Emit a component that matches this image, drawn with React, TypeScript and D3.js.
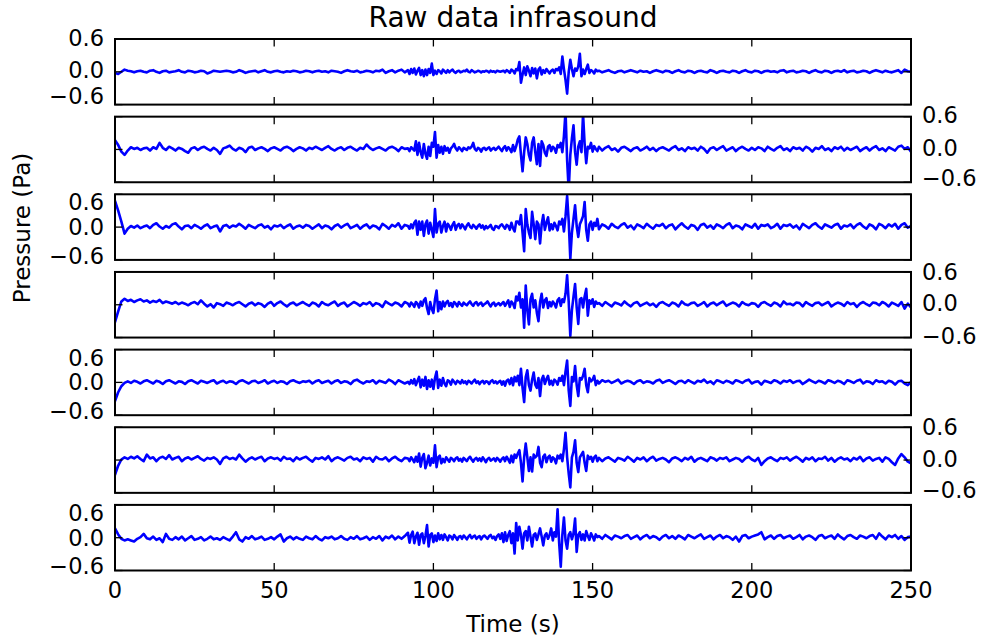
import React from 'react';
import * as d3 from 'd3';

const TITLE = 'Raw data infrasound';
const X_LABEL = 'Time (s)';
const Y_LABEL = 'Pressure (Pa)';
const X_TICKS = [0, 50, 100, 150, 200, 250];
const Y_TICKS = [0.6, 0, -0.6];
const Y_TICK_LABELS = ['0.6', '0.0', '\u22120.6'];

// sampling grid of each stored segment: [start time (s), step (s)]
const SEG_PRE: [number, number] = [0, 1];
const SEG_MID: [number, number] = [92, 0.5];
const SEG_POST: [number, number] = [152, 1];

// ---------- channel 1 ----------
const ch1Pre = [
  -.02,-.04,0,.04,.02,.01,-.01,.01,.02,0,
  -.01,.02,.03,0,-.02,.01,.02,-.01,0,.01,
  .03,0,-.01,.02,.01,-.01,0,.02,.01,-.03,
  -.01,.02,.01,0,.01,.02,.01,-.01,0,.03,
  .01,-.02,0,.01,.02,-.01,.01,.03,0,-.01,
  .01,.02,0,-.01,.01,0,.02,.01,-.01,0,
  .02,.01,-.01,.01,.02,0,.01,-.01,.02,.01,
  0,-.02,.01,.03,.01,0,.02,-.01,0,.02,
  .01,-.01,.02,.01,.04,-.02,.01,.03,-.01,.02,
  .04,-.01];
const ch1Mid = [
  .03,-.04,.05,-.02,.06,-.05,.02,.07,-.06,.03,
  -.08,.04,-.06,.05,-.02,.15,-.06,.02,-.04,.03,
  .01,-.03,.04,.01,-.02,.03,-.01,.02,.04,0,
  -.02,.01,.02,-.01,0,.02,.01,.04,0,-.01,
  .03,.01,-.01,0,.02,.01,-.01,.01,0,.02,
  .01,-.01,.02,0,.01,-.01,.02,.01,0,.01,
  .02,-.01,.03,.01,-.02,.04,.02,-.03,.05,.03,
  .18,-.2,-.05,.08,-.06,.1,.02,-.08,.07,-.03,
  .06,-.12,.04,.08,-.05,.03,-.02,.05,.01,-.03,
  .02,.04,-.02,.05,.03,.08,-.04,.28,.05,-.15,
  -.4,0,.22,.05,-.08,.06,.02,.1,.33,-.08,
  .04,-.04,.05,.13,-.02,.03,.01,-.03,.04,.01];
const ch1Post = [
  .02,-.01,.01,.03,0,-.02,.01,.02,-.01,.01,
  .03,.01,-.01,.02,0,.01,-.02,.01,.03,.01,
  -.01,.02,.01,-.02,.01,.03,0,-.01,.02,.01,
  -.02,.01,.02,0,-.01,.03,.01,-.02,.01,.02,
  0,-.01,.02,.01,-.02,.01,.03,0,-.01,.02,
  .01,-.02,.01,.02,0,.01,-.01,.02,.03,-.01,
  .01,.02,-.01,0,.02,.01,-.02,.01,.03,0,
  -.01,.02,.01,-.02,.01,.02,0,.03,-.01,.01,
  .02,-.01,0,.02,.01,-.02,.01,.03,.01,-.01,
  .02,0,-.01,.01,.03,-.02,.04,.01,0];

// ---------- channel 2 ----------
const ch2Pre = [
  .17,.08,-.04,-.1,-.02,.04,.01,.03,-.01,.02,
  .03,-.02,.04,.01,.12,.03,-.01,.05,.02,-.02,
  .03,.01,-.03,-.06,.02,.04,-.01,.03,.05,.01,
  -.02,.03,-.01,-.08,.02,.04,.07,.01,-.02,.03,
  .01,-.05,.03,.05,-.01,.02,.04,.01,-.03,.02,
  .04,.01,-.02,.03,.05,.02,-.03,.01,.04,.02,
  -.02,.03,.01,.05,.02,-.01,.03,.06,.01,-.02,
  .02,.04,-.01,.03,.05,.01,-.02,.03,.01,.09,
  .03,-.01,.02,.04,.01,-.02,.03,.05,.02,-.03,
  .04,.01];
const ch2Mid = [
  .02,-.03,.04,.01,-.02,.15,-.1,.12,-.05,-.15,
  .1,-.08,-.17,.05,-.12,.12,.05,.32,-.15,.08,
  -.06,.05,-.08,.06,-.02,.03,-.06,.02,.05,.1,
  .02,-.02,.04,.01,-.03,.03,.01,-.01,.04,.02,
  .05,.12,.01,-.02,.03,.01,-.04,.02,.03,-.01,
  .02,.04,-.02,.01,.03,-.01,.02,.05,.01,-.03,
  .03,.06,-.02,.04,.01,-.05,.08,-.03,.06,.18,
  .24,-.1,-.4,-.05,.22,.1,-.1,-.2,.12,.22,
  -.05,-.27,.1,-.3,.15,.08,-.06,-.12,.05,.08,
  -.03,.05,.02,-.06,.08,.04,.12,-.05,.25,.7,
  -.2,-.75,-.1,.2,.44,-.05,-.28,.05,.15,-.05,
  .65,.1,-.25,.05,.02,.12,-.04,.06,.01,-.03];
const ch2Post = [
  .05,-.02,.03,.06,-.01,.02,-.04,.03,.05,.01,
  -.03,.02,.04,-.02,.01,.05,-.01,.03,-.03,.02,
  .04,.01,-.02,.03,.06,-.01,.02,-.03,.04,.01,
  .03,-.02,.05,.01,-.06,.02,.04,-.01,.03,.06,
  -.02,.01,.04,-.03,.02,.05,.01,-.02,.03,-.01,
  .04,.02,-.03,.05,.01,-.02,.03,.06,-.01,.02,
  -.03,.04,.01,.03,-.02,.05,.02,-.04,.03,.01,
  .06,-.01,.02,-.03,.04,.01,.05,-.02,.03,-.01,
  .02,.05,-.03,.01,.04,-.02,.03,.06,-.01,.02,
  -.03,.04,.01,-.02,.05,.07,.01,.04,-.04];

// ---------- channel 3 ----------
const ch3Pre = [
  .48,.3,.1,-.12,-.03,.02,-.01,.03,-.02,.01,
  .03,-.02,.04,.07,.01,-.03,.02,-.01,.05,.07,
  .01,-.04,.02,.03,-.02,.04,.01,-.03,.02,.05,
  -.02,.01,.03,-.08,.02,.04,-.01,.03,.01,.06,
  .02,-.03,.04,.01,-.02,.03,.05,-.01,.02,-.04,
  .03,.01,.04,-.02,.02,.05,-.03,.01,.03,-.01,
  .04,.02,-.03,.01,.05,-.02,.03,.01,-.04,.02,
  .05,-.01,.03,.06,-.02,.01,.04,-.03,.02,.05,
  -.02,.03,.01,-.04,.06,.02,-.03,.04,.01,.07,
  -.03,.04];
const ch3Mid = [
  .02,-.03,.05,-.02,.08,.12,-.14,.1,-.05,.1,
  -.16,.05,.12,-.12,.08,-.05,-.18,.33,-.1,.06,
  .1,-.1,.02,.1,-.08,.06,.02,-.05,.04,.09,
  -.05,.03,.06,-.02,.05,.01,-.04,.03,.07,.01,
  -.02,.04,.01,-.03,.02,.05,-.01,.03,-.04,.02,
  -.02,.01,.04,-.03,-.05,.02,.01,-.02,.03,.05,
  .01,-.03,.04,.02,-.05,.08,-.02,-.08,.1,.1,
  .05,.22,-.1,-.44,.33,.05,-.1,-.2,.28,.05,
  -.22,.1,.05,-.3,.05,.22,-.05,.08,.18,-.06,
  .05,-.04,.08,.02,-.06,.1,.05,.15,-.08,.2,
  .57,.1,-.58,-.1,.15,.4,.02,-.18,.05,.12,
  .2,.46,-.05,-.25,.05,.1,-.05,.08,.02,.15];
const ch3Post = [
  -.04,.05,.02,-.03,.06,.01,-.02,.04,.07,-.01,
  .03,-.04,.05,.02,-.02,.06,.01,-.03,.04,.02,
  .06,-.02,.03,.05,-.04,.02,.07,.01,-.03,.04,
  .02,-.05,.04,.06,-.01,.03,-.03,.05,.02,-.02,
  .04,.07,-.02,.03,.01,-.04,.05,.02,-.01,.06,
  -.03,.04,.02,.05,-.02,.01,.06,-.03,.04,.02,
  .05,-.01,.03,-.04,.06,.02,-.02,.04,.07,.01,
  -.03,.05,.02,-.01,.04,.06,-.03,.03,.01,.05,
  -.02,.04,.07,.01,-.03,.05,.02,-.04,.06,.03,
  -.02,.05,.01,.06,-.03,.04,.07,-.01,.02];

// ---------- channel 4 ----------
const ch4Pre = [
  -.32,-.12,.06,.11,.07,.09,.05,.08,.1,.06,
  .08,.04,.07,.05,.09,.03,.06,.04,.02,.05,
  .01,.04,.02,-.01,.03,.05,.01,.08,.02,-.03,
  .01,-.05,.03,.01,-.02,.04,.02,-.01,.03,.05,
  .01,-.03,.02,.04,-.01,.03,.01,-.04,.02,.05,
  -.02,.03,.06,.01,-.03,.02,.04,-.01,.02,.05,
  .01,-.02,.04,.02,-.03,.05,.01,-.01,.03,.06,
  -.02,.02,.04,-.03,.01,.05,.02,-.02,.03,.01,
  .05,-.02,.03,.01,-.04,.06,.02,-.01,.04,.02,
  -.03,.05];
const ch4Mid = [
  .02,-.03,.04,.01,-.04,.05,.02,-.05,.06,-.02,
  .08,.12,-.06,-.17,.05,-.08,-.15,.1,.26,-.12,
  .05,-.08,.06,-.03,.04,.07,-.02,.03,-.04,.05,
  .02,-.03,.05,.01,-.02,.04,.01,-.01,.03,.06,
  .01,-.02,.03,.05,-.01,.02,.04,-.02,.01,.03,
  .06,.01,-.03,.02,.04,-.02,.01,.03,-.01,.02,
  .05,-.02,.03,.08,-.04,.06,.02,-.06,.15,.08,
  .22,-.05,.1,-.42,.35,-.1,-.36,.1,.2,-.05,
  .08,-.15,-.3,.05,.2,-.05,.08,.12,-.06,.05,
  -.03,.06,.02,-.05,.08,.12,-.02,.1,.05,.2,
  .54,.05,-.57,-.1,.15,.38,-.05,-.35,.1,.12,
  -.05,.15,.29,-.2,.08,.02,.1,-.04,.06,.02];
const ch4Post = [
  .03,-.02,.05,.01,-.03,.04,.02,-.01,.06,.01,
  -.03,.03,.05,-.02,.01,.04,-.01,.02,-.04,.03,
  .05,.01,-.02,.04,.02,-.03,.06,.01,-.01,.03,
  .04,-.02,.01,.05,-.03,.02,.04,-.01,.03,.06,
  -.02,.01,.04,.02,-.03,.05,.01,-.01,.03,.02,
  -.04,.03,.05,.01,-.02,.04,.02,-.03,.06,.01,
  .02,-.01,.04,.03,-.03,.05,.01,-.02,.03,.04,
  -.01,.02,.05,-.03,.01,.04,.02,-.02,.05,.01,
  .03,-.04,.02,.05,.01,-.02,.04,.03,-.01,.05,
  .02,-.03,.04,.01,-.02,.05,-.07,.02,-.05];

// ---------- channel 5 ----------
const ch5Pre = [
  -.34,-.18,-.07,-.01,.02,-.01,.03,.01,-.02,.02,
  .04,.01,-.02,.03,.01,-.03,.02,.04,.01,-.02,
  .02,.01,-.03,.02,.04,.01,-.02,.03,.01,-.01,
  .02,.04,-.02,.01,.03,-.01,.02,.01,-.03,.02,
  .04,.01,-.02,.02,.03,-.01,.01,.04,-.02,.01,
  .03,-.01,.02,.01,-.03,.02,.04,.01,-.01,.02,
  .01,.03,-.02,.02,.04,-.01,.01,.03,-.02,.02,
  .04,-.01,.02,.01,-.03,.03,.05,.01,-.02,.02,
  .01,.04,-.02,.03,.01,-.01,.05,.02,-.03,.04,
  .01,-.02];
const ch5Mid = [
  .01,-.03,.04,-.02,.06,-.05,.03,.1,-.09,.05,
  -.06,.1,-.12,.04,-.08,.05,-.12,.08,.2,-.1,
  .05,-.06,.08,-.02,-.07,.04,.02,-.04,.05,.01,
  -.03,.03,.01,-.02,.04,-.01,.02,-.03,.03,.01,
  -.02,.02,.05,-.01,.02,-.03,.01,.03,-.02,.02,
  .01,-.03,.02,.04,-.01,.02,-.02,.01,.03,-.04,
  .02,-.06,.03,.05,-.03,.08,-.05,.1,.02,.12,
  -.05,.25,-.1,-.36,.1,.22,-.05,-.15,.05,.18,
  -.04,-.1,.08,-.25,.05,.12,-.03,.06,.12,-.04,
  .03,-.05,.05,.02,-.04,.08,.03,.12,-.05,.2,
  .4,-.15,-.43,.1,.02,.3,-.05,-.25,.08,.05,
  .12,.25,-.05,-.18,.08,.02,.05,.12,-.05,.03];
const ch5Post = [
  -.02,.04,.01,.03,-.01,.02,.05,-.02,.01,.03,
  .01,-.03,.02,.04,-.01,.02,.01,-.02,.03,.05,
  -.01,.02,.04,.01,-.03,.02,.03,-.01,.04,.01,
  -.02,.03,.01,.05,-.01,.02,-.03,.04,.02,-.01,
  .03,.01,-.02,.04,.02,-.01,.03,.05,-.02,.01,
  .02,-.04,.03,.01,-.01,.04,.02,-.02,.03,.01,
  .04,-.01,.02,.03,-.03,.01,.05,.02,-.01,.03,
  .01,-.02,.04,.02,-.01,.03,.01,-.03,.04,.02,
  -.01,.03,.05,-.02,.02,.01,-.03,.04,.01,.02,
  -.02,.03,.01,-.04,.02,.03,-.02,-.05,.01];

// ---------- channel 6 ----------
const ch6Pre = [
  -.27,-.1,.01,.05,.02,.06,.03,.07,.02,-.02,
  .1,.03,.05,-.02,.04,.06,.02,.09,.01,.04,
  .06,-.02,.03,.05,.01,.04,.07,.02,-.01,.04,
  .02,.05,.01,-.07,.03,.06,.02,.04,.01,.1,
  .03,-.03,.02,.05,.01,.04,.06,-.02,.03,.05,
  .02,.04,-.01,.06,.02,.03,-.02,.05,.01,.04,
  .06,.01,-.03,.04,.02,.05,.01,.07,-.02,.03,
  .05,.02,-.01,.04,.06,.01,.03,-.02,.05,.02,
  .04,-.03,.06,.02,.01,.05,-.02,.03,.06,.01,
  -.02,.04];
const ch6Mid = [
  .03,-.02,.05,.01,-.04,.06,-.03,.12,-.12,.04,
  .11,-.15,-.05,.08,-.1,.03,-.05,.27,-.13,.05,
  .08,-.06,.02,-.04,.05,.01,-.03,.04,.02,-.02,
  .03,.05,-.01,.02,-.03,.04,.01,-.02,.03,.06,
  .01,-.03,.02,.04,-.01,.03,-.02,.05,.01,-.04,
  .02,.04,-.01,.01,.03,-.02,.04,.01,-.03,.02,
  .05,-.02,.06,.01,-.05,.08,-.04,.1,.04,.12,
  .18,-.05,-.39,.05,.3,.05,-.2,.05,-.21,.1,
  .05,.08,.24,-.05,-.13,.06,.1,-.04,.05,.08,
  -.03,.05,.02,-.06,.08,.03,.1,-.02,.2,.5,
  .05,-.25,-.5,.05,.15,.36,-.05,-.22,.05,.1,
  .15,-.05,-.2,.08,.02,.06,-.03,.05,.08,-.02];
const ch6Post = [
  .04,-.02,.03,.05,.01,-.03,.04,.02,-.01,.06,
  .02,-.03,.04,.01,.05,-.02,.03,.06,-.01,.02,
  .04,.01,-.04,.03,.05,.02,-.02,.04,.01,.06,
  -.03,.02,.04,.01,-.02,.05,.03,-.01,.04,.02,
  .05,-.02,.01,.04,.02,-.03,.03,.06,.01,-.02,
  .04,-.09,-.02,.03,.05,.01,-.02,.04,.02,.05,
  -.01,.03,.06,.02,-.03,.04,.01,.05,-.02,.03,
  .02,.06,-.01,.04,-.03,.02,.05,.01,.03,-.02,
  .04,.01,.06,-.02,.03,.05,-.01,.02,.04,-.03,
  .05,.02,-.04,-.09,.03,.11,.05,-.03,-.06];

// ---------- channel 7 ----------
const ch7Pre = [
  .17,.06,-.02,-.05,-.03,-.05,-.07,-.02,.01,.07,
  -.01,-.03,.02,-.04,-.01,-.08,.07,-.02,-.04,.01,
  -.03,.02,-.05,-.01,.03,-.04,-.02,.01,-.05,-.02,
  .02,-.03,-.01,-.04,.01,-.02,-.05,.02,.1,-.03,
  -.07,.01,-.02,.03,-.03,-.01,.02,-.04,-.02,.01,
  -.03,.02,.06,-.07,-.01,.02,-.03,.01,-.02,-.04,
  .02,-.01,-.03,.03,-.02,-.05,.01,-.01,.02,-.03,
  -.01,.03,-.02,-.04,.01,-.02,.03,-.03,-.01,.02,
  -.04,.01,-.02,.03,-.05,.02,-.01,.04,-.03,.02,
  -.02,.03];
const ch7Mid = [
  .09,-.09,.05,.11,-.1,.02,.09,-.13,.05,.08,
  -.1,.03,.23,-.16,.05,.08,-.08,.04,-.06,.08,
  -.03,.05,-.04,.06,.01,-.05,.04,.02,-.03,.05,
  .01,-.04,.02,.03,-.02,.04,.01,-.03,.02,.05,
  -.01,.02,.04,-.02,.01,.03,-.03,.02,.04,.01,
  -.02,.03,.05,-.01,.02,-.04,.03,.06,-.02,.08,
  -.08,.1,-.06,.05,.12,-.1,.08,-.29,.27,-.05,
  .2,.05,-.2,.08,.12,-.05,.2,.02,-.16,.05,
  .08,-.04,.06,.17,.02,-.14,.04,.08,-.02,.05,
  .17,-.05,.1,.02,.52,-.1,-.53,.05,.37,-.05,
  -.2,.05,.1,-.03,.08,.35,-.26,.05,.1,-.04,
  .06,-.05,.12,.03,-.04,.08,.02,-.05,.06,.01];
const ch7Post = [
  .03,-.02,.05,.01,-.03,.04,.02,-.01,.03,.05,
  -.02,.01,.04,-.03,.02,.05,-.01,.03,.01,-.04,
  .02,.05,-.01,.03,-.02,.04,.01,-.03,.05,.02,
  -.01,.03,.06,-.02,.01,.04,-.03,.02,.05,-.01,
  .03,.01,-.04,.02,-.07,.03,.05,-.01,.02,.04,
  .06,.1,-.03,.01,.04,-.02,.03,.05,-.01,.02,
  .04,-.02,.01,.05,-.03,.02,.04,.01,-.04,.03,
  .05,-.01,.02,.04,-.02,.06,.01,-.03,.03,.05,
  .01,-.02,.04,.02,-.01,.03,.05,-.02,.08,.02,
  -.03,.04,.01,.05,-.02,.03,-.04,.01,.02];

const CHANNELS = [
  [ch1Pre, ch1Mid, ch1Post],
  [ch2Pre, ch2Mid, ch2Post],
  [ch3Pre, ch3Mid, ch3Post],
  [ch4Pre, ch4Mid, ch4Post],
  [ch5Pre, ch5Mid, ch5Post],
  [ch6Pre, ch6Mid, ch6Post],
  [ch7Pre, ch7Mid, ch7Post],
];

// ---------- layout ----------
const W = 983;
const H = 644;
const LEFT = 115;
const RIGHT = 911;
const TOP0 = 39;
const PANEL_H = 65.6;
const PANEL_STEP = 77.65;
const TICK_LEN = 7.5;
const FONT = '"DejaVu Sans", "Liberation Sans", sans-serif';
const TICK_FS = 22.5;
const LABEL_FS = 23;
const TITLE_FS = 28;
const CAP = 0.729;
// vertical nudges of y tick labels (top, middle, bottom) per panel, as in the reference
const LABEL_NUDGE = [
  [-1.2, -2.3, -8.5],
  [-1.7, -2, -4.3],
  [7.8, -0.3, -3.9],
  [0, -1.7, -1.5],
  [7.8, -0.3, -4.2],
  [-0.5, -1, -2.8],
  [7.8, -0.3, -4.5],
];

function toPoints(segs: number[][]): [number, number][] {
  const grids = [SEG_PRE, SEG_MID, SEG_POST];
  const pts: [number, number][] = [];
  segs.forEach((vals, k) => {
    const [start, step] = grids[k];
    vals.forEach((v, i) => pts.push([start + i * step, v]));
  });
  return pts;
}

export default function App() {
  const x = d3.scaleLinear().domain([0, 250]).range([LEFT, RIGHT]);
  const bottomLast = TOP0 + PANEL_STEP * 6 + PANEL_H;

  return (
    <svg
      width={W}
      height={H}
      viewBox={`0 0 ${W} ${H}`}
      style={{ position: 'absolute', left: 0, top: 0, background: '#fff' }}
      fontFamily={FONT}
    >
      <rect x={0} y={0} width={W} height={H} fill="#fff" />
      <defs>
        {CHANNELS.map((_, i) => (
          <clipPath id={`clip${i}`} key={i}>
            <rect x={LEFT} y={TOP0 + i * PANEL_STEP} width={RIGHT - LEFT} height={PANEL_H} />
          </clipPath>
        ))}
      </defs>
      <text x={(LEFT + RIGHT) / 2} y={27} textAnchor="middle" fontSize={TITLE_FS} fill="#000">
        {TITLE}
      </text>
      {CHANNELS.map((segs, i) => {
        const top = TOP0 + i * PANEL_STEP;
        const bottom = top + PANEL_H;
        const y = d3.scaleLinear().domain([-0.6, 0.6]).range([bottom, top]);
        const line = d3
          .line<[number, number]>()
          .x((d) => x(d[0]))
          .y((d) => y(d[1]));
        const path = line(toPoints(segs)) || '';
        const leftSide = i % 2 === 0;
        return (
          <g key={i}>
            <path
              d={path}
              fill="none"
              stroke="#0000ff"
              strokeWidth={2.6}
              strokeLinejoin="round"
              strokeLinecap="round"
              clipPath={`url(#clip${i})`}
            />
            {X_TICKS.map((t) => (
              <g key={t}>
                <line x1={x(t)} x2={x(t)} y1={bottom} y2={bottom - TICK_LEN} stroke="#000" strokeWidth={1.3} />
                <line x1={x(t)} x2={x(t)} y1={top} y2={top + TICK_LEN} stroke="#000" strokeWidth={1.3} />
              </g>
            ))}
            {Y_TICKS.map((v) => (
              <g key={v}>
                <line x1={LEFT} x2={LEFT + TICK_LEN} y1={y(v)} y2={y(v)} stroke="#000" strokeWidth={1.3} />
                <line x1={RIGHT} x2={RIGHT - TICK_LEN} y1={y(v)} y2={y(v)} stroke="#000" strokeWidth={1.3} />
              </g>
            ))}
            <rect x={LEFT} y={top} width={RIGHT - LEFT} height={PANEL_H} fill="none" stroke="#000" strokeWidth={2} />
            {Y_TICKS.map((v, j) => (
              <text
                key={v}
                x={leftSide ? LEFT - 11 : RIGHT + 11}
                y={y(v) + LABEL_NUDGE[i][j] + (CAP * TICK_FS) / 2}
                textAnchor={leftSide ? 'end' : 'start'}
                fontSize={TICK_FS}
                fill="#000"
              >
                {Y_TICK_LABELS[j]}
              </text>
            ))}
          </g>
        );
      })}
      {X_TICKS.map((t) => (
        <text key={t} x={x(t)} y={bottomLast + 27.8} textAnchor="middle" fontSize={TICK_FS} fill="#000">
          {String(t)}
        </text>
      ))}
      <text x={(LEFT + RIGHT) / 2} y={631.5} textAnchor="middle" fontSize={LABEL_FS} fill="#000">
        {X_LABEL}
      </text>
      <text transform="translate(30, 228) rotate(-90)" textAnchor="middle" fontSize={LABEL_FS} fill="#000">
        {Y_LABEL}
      </text>
    </svg>
  );
}
